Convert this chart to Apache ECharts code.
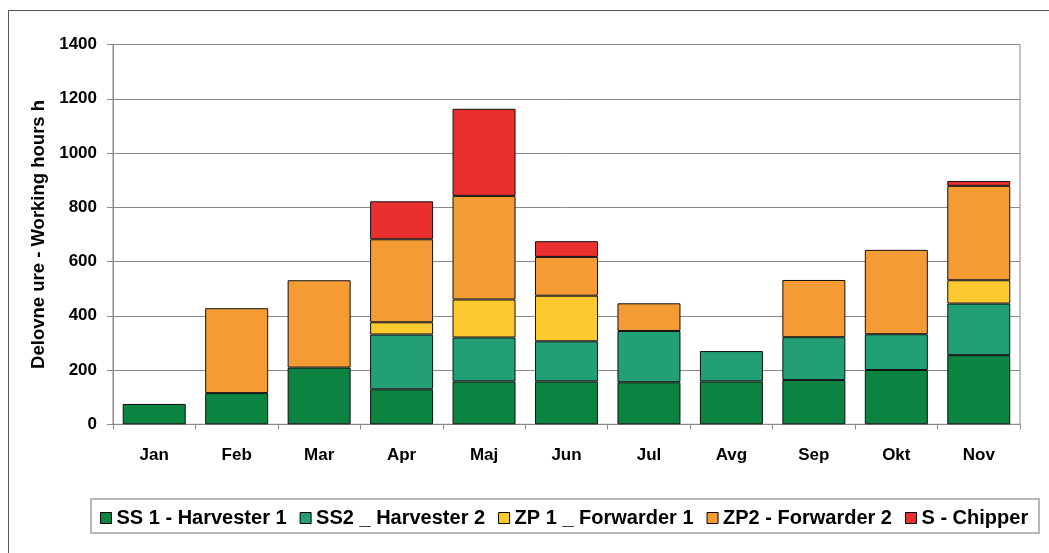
<!DOCTYPE html>
<html>
<head>
<meta charset="utf-8">
<script src="https://cdn.jsdelivr.net/npm/echarts@6/dist/echarts.min.js"></script>
<style>
  html, body { margin: 0; padding: 0; background: #fff; }
  #frame {
    position: absolute; left: 8px; top: 10px; width: 1100px; height: 600px;
    border: 1px solid #555; box-sizing: border-box;
  }
  #chart { position: absolute; left: 0; top: 0; width: 1049px; height: 553px; }
</style>
</head>
<body>
<div id="frame"></div>
<div id="chart"></div>
<script>
// months on the x axis
const months = ['Jan', 'Feb', 'Mar', 'Apr', 'Maj', 'Jun', 'Jul', 'Avg', 'Sep', 'Okt', 'Nov'];

// working hours per machine (stacked), null = no bar segment
const harvester1 = [75, 115, 209, 129, 158, 158, 155, 158, 163, 200, 255];
const harvester2 = [null, null, null, 202, 162, 148, 189, 112, 158, 132, 190];
const forwarder1 = [null, null, null, 45, 140, 168, null, null, null, null, 86];
const forwarder2 = [null, 313, 322, 306, 382, 143, 102, null, 211, 311, 348];
const chipper = [null, null, null, 140, 321, 58, null, null, null, null, 18];

const seriesNames = ['SS 1 - Harvester 1', 'SS2 _ Harvester 2', 'ZP 1 _ Forwarder 1', 'ZP2 - Forwarder 2', 'S - Chipper'];
const seriesColors = ['#0b8442', '#229f74', '#fcc92f', '#f59b34', '#e9302f'];
const seriesData = [harvester1, harvester2, forwarder1, forwarder2, chipper];

const chart = echarts.init(document.getElementById('chart'));

const font = 'Liberation Sans, Arial, sans-serif';

chart.setOption({
  animation: false,
  textStyle: { fontFamily: font },
  grid: {
    left: 113,
    right: 29,
    top: 44.5,
    bottom: 128.7,
    show: true,
    borderColor: '#8a8a8a',
    borderWidth: 1,
  },
  graphic: [{
    type: 'rect',
    shape: { x: 91, y: 499, width: 948, height: 34 },
    style: { fill: 'none', stroke: '#a0a0a0', lineWidth: 1.5 },
    z: -1,
  }],
  legend: {
    left: 95,
    top: 503,
    itemWidth: 11,
    itemHeight: 11,
    itemGap: 13,
    icon: 'rect',
    textStyle: {
      fontFamily: font, fontSize: 20, fontWeight: 'bold', color: '#000',
    },
    data: seriesNames.map((name, i) => ({
      name,
      itemStyle: { color: seriesColors[i], borderColor: '#000', borderWidth: 1 },
    })),
  },
  xAxis: {
    type: 'category',
    data: months,
    axisLine: { lineStyle: { color: '#8a8a8a', width: 1 } },
    axisTick: { show: true, length: 5, lineStyle: { color: '#8a8a8a' } },
    axisLabel: {
      margin: 23, fontSize: 17, fontWeight: 'bold', color: '#000', fontFamily: font,
    },
  },
  yAxis: {
    type: 'value',
    min: 0,
    max: 1400,
    interval: 200,
    name: 'Delovne ure - Working hours h',
    nameLocation: 'middle',
    nameGap: 64,
    nameTextStyle: {
      fontSize: 18.5, fontWeight: 'bold', color: '#000', fontFamily: font,
    },
    axisLine: { show: true, lineStyle: { color: '#8a8a8a', width: 1 } },
    axisTick: { show: true, length: 6, lineStyle: { color: '#8a8a8a' } },
    axisLabel: {
      margin: 16,
      fontSize: 17,
      fontWeight: 'bold',
      color: '#000',
      fontFamily: font,
      formatter: (v) => String(v),
    },
    splitLine: { lineStyle: { color: '#8a8a8a', width: 1 } },
  },
  series: seriesNames.map((name, i) => ({
    name,
    type: 'bar',
    stack: 'hours',
    barWidth: 63,
    data: seriesData[i],
    itemStyle: { color: seriesColors[i], borderColor: '#111', borderWidth: 1 },
  })),
});
</script>
</body>
</html>
